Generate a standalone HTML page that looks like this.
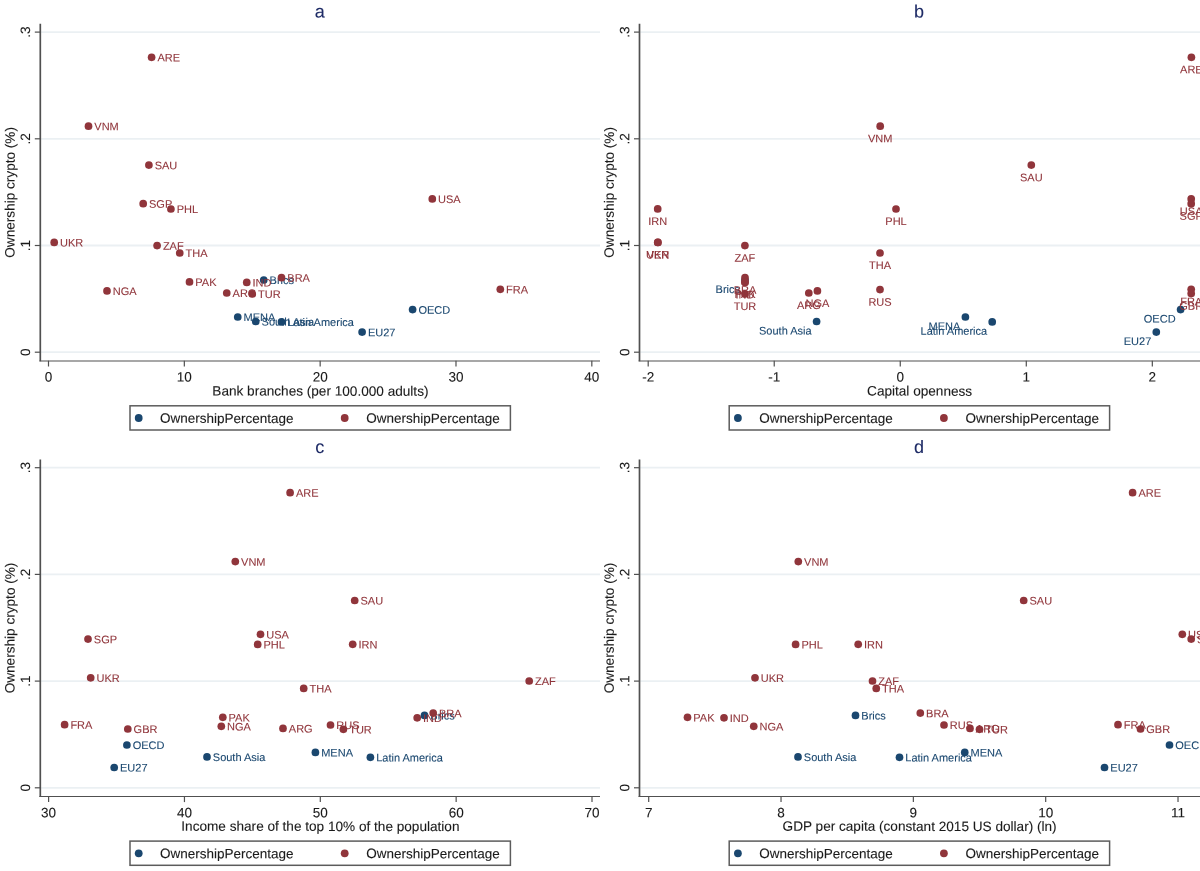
<!DOCTYPE html>
<html><head><meta charset="utf-8"><style>
html,body{margin:0;padding:0;background:#fff;}
svg{display:block;filter:blur(0.4px);}
text{font-family:"Liberation Sans", sans-serif;stroke-width:0.1px;}
</style></head><body>
<svg width="1200" height="871" viewBox="0 0 1200 871">
<rect x="0" y="0" width="1200" height="871" fill="#ffffff"/>
<line x1="41.10" y1="352.20" x2="600.00" y2="352.20" stroke="#ebf0f3" stroke-width="1.8"/>
<line x1="41.10" y1="245.50" x2="600.00" y2="245.50" stroke="#ebf0f3" stroke-width="1.8"/>
<line x1="41.10" y1="138.80" x2="600.00" y2="138.80" stroke="#ebf0f3" stroke-width="1.8"/>
<line x1="41.10" y1="32.10" x2="600.00" y2="32.10" stroke="#ebf0f3" stroke-width="1.8"/>
<line x1="40.30" y1="23.80" x2="40.30" y2="361.30" stroke="#505050" stroke-width="1.7"/>
<line x1="39.40" y1="360.90" x2="600.00" y2="360.90" stroke="#505050" stroke-width="1.05"/>
<line x1="34.80" y1="352.20" x2="40.30" y2="352.20" stroke="#505050" stroke-width="1.2"/>
<text x="30.00" y="352.20" font-size="13.5" fill="#1a1a1a" stroke="#1a1a1a" text-anchor="middle" transform="rotate(-89.9 30.00 352.20)">0</text>
<line x1="34.80" y1="245.50" x2="40.30" y2="245.50" stroke="#505050" stroke-width="1.2"/>
<text x="30.00" y="245.50" font-size="13.5" fill="#1a1a1a" stroke="#1a1a1a" text-anchor="middle" transform="rotate(-89.9 30.00 245.50)">.1</text>
<line x1="34.80" y1="138.80" x2="40.30" y2="138.80" stroke="#505050" stroke-width="1.2"/>
<text x="30.00" y="138.80" font-size="13.5" fill="#1a1a1a" stroke="#1a1a1a" text-anchor="middle" transform="rotate(-89.9 30.00 138.80)">.2</text>
<line x1="34.80" y1="32.10" x2="40.30" y2="32.10" stroke="#505050" stroke-width="1.2"/>
<text x="30.00" y="32.10" font-size="13.5" fill="#1a1a1a" stroke="#1a1a1a" text-anchor="middle" transform="rotate(-89.9 30.00 32.10)">.3</text>
<line x1="48.50" y1="360.70" x2="48.50" y2="366.50" stroke="#505050" stroke-width="1.2"/>
<text x="48.50" y="381.60" font-size="13.5" fill="#1a1a1a" stroke="#1a1a1a" text-anchor="middle" transform="rotate(0.1 48.50 381.60)">0</text>
<line x1="184.33" y1="360.70" x2="184.33" y2="366.50" stroke="#505050" stroke-width="1.2"/>
<text x="184.33" y="381.60" font-size="13.5" fill="#1a1a1a" stroke="#1a1a1a" text-anchor="middle" transform="rotate(0.1 184.33 381.60)">10</text>
<line x1="320.16" y1="360.70" x2="320.16" y2="366.50" stroke="#505050" stroke-width="1.2"/>
<text x="320.16" y="381.60" font-size="13.5" fill="#1a1a1a" stroke="#1a1a1a" text-anchor="middle" transform="rotate(0.1 320.16 381.60)">20</text>
<line x1="455.99" y1="360.70" x2="455.99" y2="366.50" stroke="#505050" stroke-width="1.2"/>
<text x="455.99" y="381.60" font-size="13.5" fill="#1a1a1a" stroke="#1a1a1a" text-anchor="middle" transform="rotate(0.1 455.99 381.60)">30</text>
<line x1="591.82" y1="360.70" x2="591.82" y2="366.50" stroke="#505050" stroke-width="1.2"/>
<text x="591.82" y="381.60" font-size="13.5" fill="#1a1a1a" stroke="#1a1a1a" text-anchor="middle" transform="rotate(0.1 591.82 381.60)">40</text>
<text x="320.40" y="395.60" font-size="13.6" fill="#1a1a1a" stroke="#1a1a1a" text-anchor="middle" transform="rotate(0.1 320.40 395.60)">Bank branches (per 100.000 adults)</text>
<text x="14.60" y="192.40" font-size="13.6" fill="#1a1a1a" stroke="#1a1a1a" text-anchor="middle" transform="rotate(-89.9 14.60 192.40)">Ownership crypto (%)</text>
<text x="319.80" y="17.60" font-size="18" fill="#1e2b66" stroke="#1e2b66" text-anchor="middle" transform="rotate(0.1 319.80 17.60)">a</text>
<rect x="130.00" y="405.80" width="380.4" height="24.2" fill="none" stroke="#5c5c5c" stroke-width="1.5"/>
<circle cx="138.70" cy="418.00" r="3.9" fill="#1a476f"/>
<text x="160.00" y="422.80" font-size="13.5" fill="#1a1a1a" stroke="#1a1a1a" text-anchor="start" transform="rotate(0.1 160.00 422.80)">OwnershipPercentage</text>
<circle cx="344.70" cy="418.00" r="3.9" fill="#90353b"/>
<text x="366.30" y="422.80" font-size="13.5" fill="#1a1a1a" stroke="#1a1a1a" text-anchor="start" transform="rotate(0.1 366.30 422.80)">OwnershipPercentage</text>
<circle cx="263.75" cy="280.00" r="3.85" fill="#1a476f"/>
<circle cx="237.75" cy="317.00" r="3.85" fill="#1a476f"/>
<circle cx="255.75" cy="321.50" r="3.85" fill="#1a476f"/>
<circle cx="281.50" cy="321.90" r="3.85" fill="#1a476f"/>
<circle cx="412.60" cy="309.60" r="3.85" fill="#1a476f"/>
<circle cx="362.10" cy="332.10" r="3.85" fill="#1a476f"/>
<text x="269.55" y="284.08" font-size="11" fill="#1a476f" stroke="#1a476f" transform="rotate(0.1 269.55 284.08)">Brics</text>
<text x="243.55" y="321.08" font-size="11" fill="#1a476f" stroke="#1a476f" transform="rotate(0.1 243.55 321.08)">MENA</text>
<text x="261.55" y="325.58" font-size="11" fill="#1a476f" stroke="#1a476f" transform="rotate(0.1 261.55 325.58)">South Asia</text>
<text x="287.30" y="325.98" font-size="11" fill="#1a476f" stroke="#1a476f" transform="rotate(0.1 287.30 325.98)">Latin America</text>
<text x="418.40" y="313.68" font-size="11" fill="#1a476f" stroke="#1a476f" transform="rotate(0.1 418.40 313.68)">OECD</text>
<text x="367.90" y="336.18" font-size="11" fill="#1a476f" stroke="#1a476f" transform="rotate(0.1 367.90 336.18)">EU27</text>
<circle cx="151.60" cy="57.30" r="3.85" fill="#90353b"/>
<circle cx="88.50" cy="126.20" r="3.85" fill="#90353b"/>
<circle cx="148.90" cy="165.10" r="3.85" fill="#90353b"/>
<circle cx="143.20" cy="203.70" r="3.85" fill="#90353b"/>
<circle cx="170.90" cy="209.00" r="3.85" fill="#90353b"/>
<circle cx="54.20" cy="242.40" r="3.85" fill="#90353b"/>
<circle cx="157.10" cy="245.60" r="3.85" fill="#90353b"/>
<circle cx="179.75" cy="253.00" r="3.85" fill="#90353b"/>
<circle cx="189.50" cy="281.90" r="3.85" fill="#90353b"/>
<circle cx="107.00" cy="290.90" r="3.85" fill="#90353b"/>
<circle cx="246.75" cy="282.40" r="3.85" fill="#90353b"/>
<circle cx="281.50" cy="277.70" r="3.85" fill="#90353b"/>
<circle cx="226.75" cy="293.00" r="3.85" fill="#90353b"/>
<circle cx="252.25" cy="293.90" r="3.85" fill="#90353b"/>
<circle cx="432.30" cy="198.90" r="3.85" fill="#90353b"/>
<circle cx="500.30" cy="289.30" r="3.85" fill="#90353b"/>
<text x="157.40" y="61.38" font-size="11" fill="#90353b" stroke="#90353b" transform="rotate(0.1 157.40 61.38)">ARE</text>
<text x="94.30" y="130.28" font-size="11" fill="#90353b" stroke="#90353b" transform="rotate(0.1 94.30 130.28)">VNM</text>
<text x="154.70" y="169.18" font-size="11" fill="#90353b" stroke="#90353b" transform="rotate(0.1 154.70 169.18)">SAU</text>
<text x="149.00" y="207.78" font-size="11" fill="#90353b" stroke="#90353b" transform="rotate(0.1 149.00 207.78)">SGP</text>
<text x="176.70" y="213.08" font-size="11" fill="#90353b" stroke="#90353b" transform="rotate(0.1 176.70 213.08)">PHL</text>
<text x="60.00" y="246.48" font-size="11" fill="#90353b" stroke="#90353b" transform="rotate(0.1 60.00 246.48)">UKR</text>
<text x="162.90" y="249.68" font-size="11" fill="#90353b" stroke="#90353b" transform="rotate(0.1 162.90 249.68)">ZAF</text>
<text x="185.55" y="257.08" font-size="11" fill="#90353b" stroke="#90353b" transform="rotate(0.1 185.55 257.08)">THA</text>
<text x="195.30" y="285.98" font-size="11" fill="#90353b" stroke="#90353b" transform="rotate(0.1 195.30 285.98)">PAK</text>
<text x="112.80" y="294.98" font-size="11" fill="#90353b" stroke="#90353b" transform="rotate(0.1 112.80 294.98)">NGA</text>
<text x="252.55" y="286.48" font-size="11" fill="#90353b" stroke="#90353b" transform="rotate(0.1 252.55 286.48)">IND</text>
<text x="287.30" y="281.78" font-size="11" fill="#90353b" stroke="#90353b" transform="rotate(0.1 287.30 281.78)">BRA</text>
<text x="232.55" y="297.08" font-size="11" fill="#90353b" stroke="#90353b" transform="rotate(0.1 232.55 297.08)">ARG</text>
<text x="258.05" y="297.98" font-size="11" fill="#90353b" stroke="#90353b" transform="rotate(0.1 258.05 297.98)">TUR</text>
<text x="438.10" y="202.98" font-size="11" fill="#90353b" stroke="#90353b" transform="rotate(0.1 438.10 202.98)">USA</text>
<text x="506.10" y="293.38" font-size="11" fill="#90353b" stroke="#90353b" transform="rotate(0.1 506.10 293.38)">FRA</text>
<line x1="640.30" y1="352.20" x2="1201.00" y2="352.20" stroke="#ebf0f3" stroke-width="1.8"/>
<line x1="640.30" y1="245.50" x2="1201.00" y2="245.50" stroke="#ebf0f3" stroke-width="1.8"/>
<line x1="640.30" y1="138.80" x2="1201.00" y2="138.80" stroke="#ebf0f3" stroke-width="1.8"/>
<line x1="640.30" y1="32.10" x2="1201.00" y2="32.10" stroke="#ebf0f3" stroke-width="1.8"/>
<line x1="639.50" y1="23.80" x2="639.50" y2="361.30" stroke="#505050" stroke-width="1.7"/>
<line x1="638.60" y1="360.90" x2="1201.00" y2="360.90" stroke="#505050" stroke-width="1.05"/>
<line x1="634.00" y1="352.20" x2="639.50" y2="352.20" stroke="#505050" stroke-width="1.2"/>
<text x="629.20" y="352.20" font-size="13.5" fill="#1a1a1a" stroke="#1a1a1a" text-anchor="middle" transform="rotate(-89.9 629.20 352.20)">0</text>
<line x1="634.00" y1="245.50" x2="639.50" y2="245.50" stroke="#505050" stroke-width="1.2"/>
<text x="629.20" y="245.50" font-size="13.5" fill="#1a1a1a" stroke="#1a1a1a" text-anchor="middle" transform="rotate(-89.9 629.20 245.50)">.1</text>
<line x1="634.00" y1="138.80" x2="639.50" y2="138.80" stroke="#505050" stroke-width="1.2"/>
<text x="629.20" y="138.80" font-size="13.5" fill="#1a1a1a" stroke="#1a1a1a" text-anchor="middle" transform="rotate(-89.9 629.20 138.80)">.2</text>
<line x1="634.00" y1="32.10" x2="639.50" y2="32.10" stroke="#505050" stroke-width="1.2"/>
<text x="629.20" y="32.10" font-size="13.5" fill="#1a1a1a" stroke="#1a1a1a" text-anchor="middle" transform="rotate(-89.9 629.20 32.10)">.3</text>
<line x1="648.20" y1="360.70" x2="648.20" y2="366.50" stroke="#505050" stroke-width="1.2"/>
<text x="648.20" y="381.60" font-size="13.5" fill="#1a1a1a" stroke="#1a1a1a" text-anchor="middle" transform="rotate(0.1 648.20 381.60)">-2</text>
<line x1="774.23" y1="360.70" x2="774.23" y2="366.50" stroke="#505050" stroke-width="1.2"/>
<text x="774.23" y="381.60" font-size="13.5" fill="#1a1a1a" stroke="#1a1a1a" text-anchor="middle" transform="rotate(0.1 774.23 381.60)">-1</text>
<line x1="900.26" y1="360.70" x2="900.26" y2="366.50" stroke="#505050" stroke-width="1.2"/>
<text x="900.26" y="381.60" font-size="13.5" fill="#1a1a1a" stroke="#1a1a1a" text-anchor="middle" transform="rotate(0.1 900.26 381.60)">0</text>
<line x1="1026.29" y1="360.70" x2="1026.29" y2="366.50" stroke="#505050" stroke-width="1.2"/>
<text x="1026.29" y="381.60" font-size="13.5" fill="#1a1a1a" stroke="#1a1a1a" text-anchor="middle" transform="rotate(0.1 1026.29 381.60)">1</text>
<line x1="1152.32" y1="360.70" x2="1152.32" y2="366.50" stroke="#505050" stroke-width="1.2"/>
<text x="1152.32" y="381.60" font-size="13.5" fill="#1a1a1a" stroke="#1a1a1a" text-anchor="middle" transform="rotate(0.1 1152.32 381.60)">2</text>
<text x="919.60" y="395.60" font-size="13.6" fill="#1a1a1a" stroke="#1a1a1a" text-anchor="middle" transform="rotate(0.1 919.60 395.60)">Capital openness</text>
<text x="613.80" y="192.40" font-size="13.6" fill="#1a1a1a" stroke="#1a1a1a" text-anchor="middle" transform="rotate(-89.9 613.80 192.40)">Ownership crypto (%)</text>
<text x="919.00" y="17.60" font-size="18" fill="#1e2b66" stroke="#1e2b66" text-anchor="middle" transform="rotate(0.1 919.00 17.60)">b</text>
<rect x="729.20" y="405.80" width="380.4" height="24.2" fill="none" stroke="#5c5c5c" stroke-width="1.5"/>
<circle cx="737.90" cy="418.00" r="3.9" fill="#1a476f"/>
<text x="759.20" y="422.80" font-size="13.5" fill="#1a1a1a" stroke="#1a1a1a" text-anchor="start" transform="rotate(0.1 759.20 422.80)">OwnershipPercentage</text>
<circle cx="943.90" cy="418.00" r="3.9" fill="#90353b"/>
<text x="965.50" y="422.80" font-size="13.5" fill="#1a1a1a" stroke="#1a1a1a" text-anchor="start" transform="rotate(0.1 965.50 422.80)">OwnershipPercentage</text>
<circle cx="745.00" cy="280.00" r="3.85" fill="#1a476f"/>
<circle cx="816.60" cy="321.50" r="3.85" fill="#1a476f"/>
<circle cx="965.40" cy="317.00" r="3.85" fill="#1a476f"/>
<circle cx="992.20" cy="321.90" r="3.85" fill="#1a476f"/>
<circle cx="1156.30" cy="332.10" r="3.85" fill="#1a476f"/>
<circle cx="1180.60" cy="309.60" r="3.85" fill="#1a476f"/>
<text x="740.00" y="292.98" font-size="11" fill="#1a476f" stroke="#1a476f" text-anchor="end" transform="rotate(0.1 740.00 292.98)">Brics</text>
<text x="811.60" y="334.48" font-size="11" fill="#1a476f" stroke="#1a476f" text-anchor="end" transform="rotate(0.1 811.60 334.48)">South Asia</text>
<text x="960.40" y="329.98" font-size="11" fill="#1a476f" stroke="#1a476f" text-anchor="end" transform="rotate(0.1 960.40 329.98)">MENA</text>
<text x="987.20" y="334.88" font-size="11" fill="#1a476f" stroke="#1a476f" text-anchor="end" transform="rotate(0.1 987.20 334.88)">Latin America</text>
<text x="1151.30" y="345.08" font-size="11" fill="#1a476f" stroke="#1a476f" text-anchor="end" transform="rotate(0.1 1151.30 345.08)">EU27</text>
<text x="1175.60" y="322.58" font-size="11" fill="#1a476f" stroke="#1a476f" text-anchor="end" transform="rotate(0.1 1175.60 322.58)">OECD</text>
<circle cx="657.70" cy="208.90" r="3.85" fill="#90353b"/>
<circle cx="657.70" cy="242.40" r="3.85" fill="#90353b"/>
<circle cx="658.00" cy="242.40" r="3.85" fill="#90353b"/>
<circle cx="744.90" cy="245.60" r="3.85" fill="#90353b"/>
<circle cx="745.00" cy="277.70" r="3.85" fill="#90353b"/>
<circle cx="745.00" cy="282.40" r="3.85" fill="#90353b"/>
<circle cx="745.00" cy="281.90" r="3.85" fill="#90353b"/>
<circle cx="745.00" cy="293.90" r="3.85" fill="#90353b"/>
<circle cx="808.80" cy="293.00" r="3.85" fill="#90353b"/>
<circle cx="817.40" cy="290.90" r="3.85" fill="#90353b"/>
<circle cx="880.20" cy="126.20" r="3.85" fill="#90353b"/>
<circle cx="880.00" cy="253.00" r="3.85" fill="#90353b"/>
<circle cx="880.00" cy="289.60" r="3.85" fill="#90353b"/>
<circle cx="896.00" cy="209.00" r="3.85" fill="#90353b"/>
<circle cx="1031.30" cy="165.10" r="3.85" fill="#90353b"/>
<circle cx="1191.40" cy="57.30" r="3.85" fill="#90353b"/>
<circle cx="1191.20" cy="198.90" r="3.85" fill="#90353b"/>
<circle cx="1191.20" cy="203.70" r="3.85" fill="#90353b"/>
<circle cx="1191.20" cy="289.30" r="3.85" fill="#90353b"/>
<circle cx="1191.20" cy="293.60" r="3.85" fill="#90353b"/>
<text x="657.70" y="224.98" font-size="11" fill="#90353b" stroke="#90353b" text-anchor="middle" transform="rotate(0.1 657.70 224.98)">IRN</text>
<text x="657.70" y="258.48" font-size="11" fill="#90353b" stroke="#90353b" text-anchor="middle" transform="rotate(0.1 657.70 258.48)">UKR</text>
<text x="658.00" y="258.48" font-size="11" fill="#90353b" stroke="#90353b" text-anchor="middle" transform="rotate(0.1 658.00 258.48)">VEN</text>
<text x="744.90" y="261.68" font-size="11" fill="#90353b" stroke="#90353b" text-anchor="middle" transform="rotate(0.1 744.90 261.68)">ZAF</text>
<text x="745.00" y="293.78" font-size="11" fill="#90353b" stroke="#90353b" text-anchor="middle" transform="rotate(0.1 745.00 293.78)">BRA</text>
<text x="745.00" y="298.48" font-size="11" fill="#90353b" stroke="#90353b" text-anchor="middle" transform="rotate(0.1 745.00 298.48)">IND</text>
<text x="745.00" y="297.98" font-size="11" fill="#90353b" stroke="#90353b" text-anchor="middle" transform="rotate(0.1 745.00 297.98)">PAK</text>
<text x="745.00" y="309.98" font-size="11" fill="#90353b" stroke="#90353b" text-anchor="middle" transform="rotate(0.1 745.00 309.98)">TUR</text>
<text x="808.80" y="309.08" font-size="11" fill="#90353b" stroke="#90353b" text-anchor="middle" transform="rotate(0.1 808.80 309.08)">ARG</text>
<text x="817.40" y="306.98" font-size="11" fill="#90353b" stroke="#90353b" text-anchor="middle" transform="rotate(0.1 817.40 306.98)">NGA</text>
<text x="880.20" y="142.28" font-size="11" fill="#90353b" stroke="#90353b" text-anchor="middle" transform="rotate(0.1 880.20 142.28)">VNM</text>
<text x="880.00" y="269.08" font-size="11" fill="#90353b" stroke="#90353b" text-anchor="middle" transform="rotate(0.1 880.00 269.08)">THA</text>
<text x="880.00" y="305.68" font-size="11" fill="#90353b" stroke="#90353b" text-anchor="middle" transform="rotate(0.1 880.00 305.68)">RUS</text>
<text x="896.00" y="225.08" font-size="11" fill="#90353b" stroke="#90353b" text-anchor="middle" transform="rotate(0.1 896.00 225.08)">PHL</text>
<text x="1031.30" y="181.18" font-size="11" fill="#90353b" stroke="#90353b" text-anchor="middle" transform="rotate(0.1 1031.30 181.18)">SAU</text>
<text x="1191.40" y="73.38" font-size="11" fill="#90353b" stroke="#90353b" text-anchor="middle" transform="rotate(0.1 1191.40 73.38)">ARE</text>
<text x="1191.20" y="214.98" font-size="11" fill="#90353b" stroke="#90353b" text-anchor="middle" transform="rotate(0.1 1191.20 214.98)">USA</text>
<text x="1191.20" y="219.78" font-size="11" fill="#90353b" stroke="#90353b" text-anchor="middle" transform="rotate(0.1 1191.20 219.78)">SGP</text>
<text x="1191.20" y="305.38" font-size="11" fill="#90353b" stroke="#90353b" text-anchor="middle" transform="rotate(0.1 1191.20 305.38)">FRA</text>
<text x="1191.20" y="309.68" font-size="11" fill="#90353b" stroke="#90353b" text-anchor="middle" transform="rotate(0.1 1191.20 309.68)">GBR</text>
<line x1="41.10" y1="787.80" x2="600.00" y2="787.80" stroke="#ebf0f3" stroke-width="1.8"/>
<line x1="41.10" y1="681.10" x2="600.00" y2="681.10" stroke="#ebf0f3" stroke-width="1.8"/>
<line x1="41.10" y1="574.40" x2="600.00" y2="574.40" stroke="#ebf0f3" stroke-width="1.8"/>
<line x1="41.10" y1="467.70" x2="600.00" y2="467.70" stroke="#ebf0f3" stroke-width="1.8"/>
<line x1="40.30" y1="459.40" x2="40.30" y2="796.90" stroke="#505050" stroke-width="1.7"/>
<line x1="39.40" y1="796.50" x2="600.00" y2="796.50" stroke="#505050" stroke-width="1.05"/>
<line x1="34.80" y1="787.80" x2="40.30" y2="787.80" stroke="#505050" stroke-width="1.2"/>
<text x="30.00" y="787.80" font-size="13.5" fill="#1a1a1a" stroke="#1a1a1a" text-anchor="middle" transform="rotate(-89.9 30.00 787.80)">0</text>
<line x1="34.80" y1="681.10" x2="40.30" y2="681.10" stroke="#505050" stroke-width="1.2"/>
<text x="30.00" y="681.10" font-size="13.5" fill="#1a1a1a" stroke="#1a1a1a" text-anchor="middle" transform="rotate(-89.9 30.00 681.10)">.1</text>
<line x1="34.80" y1="574.40" x2="40.30" y2="574.40" stroke="#505050" stroke-width="1.2"/>
<text x="30.00" y="574.40" font-size="13.5" fill="#1a1a1a" stroke="#1a1a1a" text-anchor="middle" transform="rotate(-89.9 30.00 574.40)">.2</text>
<line x1="34.80" y1="467.70" x2="40.30" y2="467.70" stroke="#505050" stroke-width="1.2"/>
<text x="30.00" y="467.70" font-size="13.5" fill="#1a1a1a" stroke="#1a1a1a" text-anchor="middle" transform="rotate(-89.9 30.00 467.70)">.3</text>
<line x1="48.60" y1="796.30" x2="48.60" y2="802.10" stroke="#505050" stroke-width="1.2"/>
<text x="48.60" y="817.20" font-size="13.5" fill="#1a1a1a" stroke="#1a1a1a" text-anchor="middle" transform="rotate(0.1 48.60 817.20)">30</text>
<line x1="184.45" y1="796.30" x2="184.45" y2="802.10" stroke="#505050" stroke-width="1.2"/>
<text x="184.45" y="817.20" font-size="13.5" fill="#1a1a1a" stroke="#1a1a1a" text-anchor="middle" transform="rotate(0.1 184.45 817.20)">40</text>
<line x1="320.30" y1="796.30" x2="320.30" y2="802.10" stroke="#505050" stroke-width="1.2"/>
<text x="320.30" y="817.20" font-size="13.5" fill="#1a1a1a" stroke="#1a1a1a" text-anchor="middle" transform="rotate(0.1 320.30 817.20)">50</text>
<line x1="456.15" y1="796.30" x2="456.15" y2="802.10" stroke="#505050" stroke-width="1.2"/>
<text x="456.15" y="817.20" font-size="13.5" fill="#1a1a1a" stroke="#1a1a1a" text-anchor="middle" transform="rotate(0.1 456.15 817.20)">60</text>
<line x1="592.00" y1="796.30" x2="592.00" y2="802.10" stroke="#505050" stroke-width="1.2"/>
<text x="592.00" y="817.20" font-size="13.5" fill="#1a1a1a" stroke="#1a1a1a" text-anchor="middle" transform="rotate(0.1 592.00 817.20)">70</text>
<text x="320.40" y="830.90" font-size="13.6" fill="#1a1a1a" stroke="#1a1a1a" text-anchor="middle" transform="rotate(0.1 320.40 830.90)">Income share of the top 10% of the population</text>
<text x="14.60" y="628.00" font-size="13.6" fill="#1a1a1a" stroke="#1a1a1a" text-anchor="middle" transform="rotate(-89.9 14.60 628.00)">Ownership crypto (%)</text>
<text x="319.80" y="452.90" font-size="18" fill="#1e2b66" stroke="#1e2b66" text-anchor="middle" transform="rotate(0.1 319.80 452.90)">c</text>
<rect x="130.00" y="841.10" width="380.4" height="24.2" fill="none" stroke="#5c5c5c" stroke-width="1.5"/>
<circle cx="138.70" cy="853.30" r="3.9" fill="#1a476f"/>
<text x="160.00" y="858.10" font-size="13.5" fill="#1a1a1a" stroke="#1a1a1a" text-anchor="start" transform="rotate(0.1 160.00 858.10)">OwnershipPercentage</text>
<circle cx="344.70" cy="853.30" r="3.9" fill="#90353b"/>
<text x="366.30" y="858.10" font-size="13.5" fill="#1a1a1a" stroke="#1a1a1a" text-anchor="start" transform="rotate(0.1 366.30 858.10)">OwnershipPercentage</text>
<circle cx="424.50" cy="715.40" r="3.85" fill="#1a476f"/>
<circle cx="126.90" cy="745.00" r="3.85" fill="#1a476f"/>
<circle cx="114.20" cy="767.50" r="3.85" fill="#1a476f"/>
<circle cx="207.00" cy="756.90" r="3.85" fill="#1a476f"/>
<circle cx="315.40" cy="752.40" r="3.85" fill="#1a476f"/>
<circle cx="370.40" cy="757.30" r="3.85" fill="#1a476f"/>
<text x="430.30" y="719.48" font-size="11" fill="#1a476f" stroke="#1a476f" transform="rotate(0.1 430.30 719.48)">Brics</text>
<text x="132.70" y="749.08" font-size="11" fill="#1a476f" stroke="#1a476f" transform="rotate(0.1 132.70 749.08)">OECD</text>
<text x="120.00" y="771.58" font-size="11" fill="#1a476f" stroke="#1a476f" transform="rotate(0.1 120.00 771.58)">EU27</text>
<text x="212.80" y="760.98" font-size="11" fill="#1a476f" stroke="#1a476f" transform="rotate(0.1 212.80 760.98)">South Asia</text>
<text x="321.20" y="756.48" font-size="11" fill="#1a476f" stroke="#1a476f" transform="rotate(0.1 321.20 756.48)">MENA</text>
<text x="376.20" y="761.38" font-size="11" fill="#1a476f" stroke="#1a476f" transform="rotate(0.1 376.20 761.38)">Latin America</text>
<circle cx="290.10" cy="492.70" r="3.85" fill="#90353b"/>
<circle cx="235.30" cy="561.60" r="3.85" fill="#90353b"/>
<circle cx="354.70" cy="600.50" r="3.85" fill="#90353b"/>
<circle cx="88.00" cy="639.10" r="3.85" fill="#90353b"/>
<circle cx="260.50" cy="634.30" r="3.85" fill="#90353b"/>
<circle cx="257.70" cy="644.40" r="3.85" fill="#90353b"/>
<circle cx="352.70" cy="644.30" r="3.85" fill="#90353b"/>
<circle cx="90.70" cy="677.80" r="3.85" fill="#90353b"/>
<circle cx="529.20" cy="681.00" r="3.85" fill="#90353b"/>
<circle cx="303.70" cy="688.40" r="3.85" fill="#90353b"/>
<circle cx="222.80" cy="717.30" r="3.85" fill="#90353b"/>
<circle cx="221.30" cy="726.30" r="3.85" fill="#90353b"/>
<circle cx="283.00" cy="728.40" r="3.85" fill="#90353b"/>
<circle cx="330.50" cy="725.00" r="3.85" fill="#90353b"/>
<circle cx="343.40" cy="729.30" r="3.85" fill="#90353b"/>
<circle cx="417.20" cy="717.80" r="3.85" fill="#90353b"/>
<circle cx="433.20" cy="713.10" r="3.85" fill="#90353b"/>
<circle cx="64.60" cy="724.70" r="3.85" fill="#90353b"/>
<circle cx="127.80" cy="729.00" r="3.85" fill="#90353b"/>
<text x="295.90" y="496.78" font-size="11" fill="#90353b" stroke="#90353b" transform="rotate(0.1 295.90 496.78)">ARE</text>
<text x="241.10" y="565.68" font-size="11" fill="#90353b" stroke="#90353b" transform="rotate(0.1 241.10 565.68)">VNM</text>
<text x="360.50" y="604.58" font-size="11" fill="#90353b" stroke="#90353b" transform="rotate(0.1 360.50 604.58)">SAU</text>
<text x="93.80" y="643.18" font-size="11" fill="#90353b" stroke="#90353b" transform="rotate(0.1 93.80 643.18)">SGP</text>
<text x="266.30" y="638.38" font-size="11" fill="#90353b" stroke="#90353b" transform="rotate(0.1 266.30 638.38)">USA</text>
<text x="263.50" y="648.48" font-size="11" fill="#90353b" stroke="#90353b" transform="rotate(0.1 263.50 648.48)">PHL</text>
<text x="358.50" y="648.38" font-size="11" fill="#90353b" stroke="#90353b" transform="rotate(0.1 358.50 648.38)">IRN</text>
<text x="96.50" y="681.88" font-size="11" fill="#90353b" stroke="#90353b" transform="rotate(0.1 96.50 681.88)">UKR</text>
<text x="535.00" y="685.08" font-size="11" fill="#90353b" stroke="#90353b" transform="rotate(0.1 535.00 685.08)">ZAF</text>
<text x="309.50" y="692.48" font-size="11" fill="#90353b" stroke="#90353b" transform="rotate(0.1 309.50 692.48)">THA</text>
<text x="228.60" y="721.38" font-size="11" fill="#90353b" stroke="#90353b" transform="rotate(0.1 228.60 721.38)">PAK</text>
<text x="227.10" y="730.38" font-size="11" fill="#90353b" stroke="#90353b" transform="rotate(0.1 227.10 730.38)">NGA</text>
<text x="288.80" y="732.48" font-size="11" fill="#90353b" stroke="#90353b" transform="rotate(0.1 288.80 732.48)">ARG</text>
<text x="336.30" y="729.08" font-size="11" fill="#90353b" stroke="#90353b" transform="rotate(0.1 336.30 729.08)">RUS</text>
<text x="349.20" y="733.38" font-size="11" fill="#90353b" stroke="#90353b" transform="rotate(0.1 349.20 733.38)">TUR</text>
<text x="423.00" y="721.88" font-size="11" fill="#90353b" stroke="#90353b" transform="rotate(0.1 423.00 721.88)">IND</text>
<text x="439.00" y="717.18" font-size="11" fill="#90353b" stroke="#90353b" transform="rotate(0.1 439.00 717.18)">BRA</text>
<text x="70.40" y="728.78" font-size="11" fill="#90353b" stroke="#90353b" transform="rotate(0.1 70.40 728.78)">FRA</text>
<text x="133.60" y="733.08" font-size="11" fill="#90353b" stroke="#90353b" transform="rotate(0.1 133.60 733.08)">GBR</text>
<line x1="640.30" y1="787.80" x2="1201.00" y2="787.80" stroke="#ebf0f3" stroke-width="1.8"/>
<line x1="640.30" y1="681.10" x2="1201.00" y2="681.10" stroke="#ebf0f3" stroke-width="1.8"/>
<line x1="640.30" y1="574.40" x2="1201.00" y2="574.40" stroke="#ebf0f3" stroke-width="1.8"/>
<line x1="640.30" y1="467.70" x2="1201.00" y2="467.70" stroke="#ebf0f3" stroke-width="1.8"/>
<line x1="639.50" y1="459.40" x2="639.50" y2="796.90" stroke="#505050" stroke-width="1.7"/>
<line x1="638.60" y1="796.50" x2="1201.00" y2="796.50" stroke="#505050" stroke-width="1.05"/>
<line x1="634.00" y1="787.80" x2="639.50" y2="787.80" stroke="#505050" stroke-width="1.2"/>
<text x="629.20" y="787.80" font-size="13.5" fill="#1a1a1a" stroke="#1a1a1a" text-anchor="middle" transform="rotate(-89.9 629.20 787.80)">0</text>
<line x1="634.00" y1="681.10" x2="639.50" y2="681.10" stroke="#505050" stroke-width="1.2"/>
<text x="629.20" y="681.10" font-size="13.5" fill="#1a1a1a" stroke="#1a1a1a" text-anchor="middle" transform="rotate(-89.9 629.20 681.10)">.1</text>
<line x1="634.00" y1="574.40" x2="639.50" y2="574.40" stroke="#505050" stroke-width="1.2"/>
<text x="629.20" y="574.40" font-size="13.5" fill="#1a1a1a" stroke="#1a1a1a" text-anchor="middle" transform="rotate(-89.9 629.20 574.40)">.2</text>
<line x1="634.00" y1="467.70" x2="639.50" y2="467.70" stroke="#505050" stroke-width="1.2"/>
<text x="629.20" y="467.70" font-size="13.5" fill="#1a1a1a" stroke="#1a1a1a" text-anchor="middle" transform="rotate(-89.9 629.20 467.70)">.3</text>
<line x1="648.70" y1="796.30" x2="648.70" y2="802.10" stroke="#505050" stroke-width="1.2"/>
<text x="648.70" y="817.20" font-size="13.5" fill="#1a1a1a" stroke="#1a1a1a" text-anchor="middle" transform="rotate(0.1 648.70 817.20)">7</text>
<line x1="781.03" y1="796.30" x2="781.03" y2="802.10" stroke="#505050" stroke-width="1.2"/>
<text x="781.03" y="817.20" font-size="13.5" fill="#1a1a1a" stroke="#1a1a1a" text-anchor="middle" transform="rotate(0.1 781.03 817.20)">8</text>
<line x1="913.36" y1="796.30" x2="913.36" y2="802.10" stroke="#505050" stroke-width="1.2"/>
<text x="913.36" y="817.20" font-size="13.5" fill="#1a1a1a" stroke="#1a1a1a" text-anchor="middle" transform="rotate(0.1 913.36 817.20)">9</text>
<line x1="1045.69" y1="796.30" x2="1045.69" y2="802.10" stroke="#505050" stroke-width="1.2"/>
<text x="1045.69" y="817.20" font-size="13.5" fill="#1a1a1a" stroke="#1a1a1a" text-anchor="middle" transform="rotate(0.1 1045.69 817.20)">10</text>
<line x1="1178.02" y1="796.30" x2="1178.02" y2="802.10" stroke="#505050" stroke-width="1.2"/>
<text x="1178.02" y="817.20" font-size="13.5" fill="#1a1a1a" stroke="#1a1a1a" text-anchor="middle" transform="rotate(0.1 1178.02 817.20)">11</text>
<text x="919.60" y="830.90" font-size="13.6" fill="#1a1a1a" stroke="#1a1a1a" text-anchor="middle" transform="rotate(0.1 919.60 830.90)">GDP per capita (constant 2015 US dollar) (ln)</text>
<text x="613.80" y="628.00" font-size="13.6" fill="#1a1a1a" stroke="#1a1a1a" text-anchor="middle" transform="rotate(-89.9 613.80 628.00)">Ownership crypto (%)</text>
<text x="919.00" y="452.90" font-size="18" fill="#1e2b66" stroke="#1e2b66" text-anchor="middle" transform="rotate(0.1 919.00 452.90)">d</text>
<rect x="729.20" y="841.10" width="380.4" height="24.2" fill="none" stroke="#5c5c5c" stroke-width="1.5"/>
<circle cx="737.90" cy="853.30" r="3.9" fill="#1a476f"/>
<text x="759.20" y="858.10" font-size="13.5" fill="#1a1a1a" stroke="#1a1a1a" text-anchor="start" transform="rotate(0.1 759.20 858.10)">OwnershipPercentage</text>
<circle cx="943.90" cy="853.30" r="3.9" fill="#90353b"/>
<text x="965.50" y="858.10" font-size="13.5" fill="#1a1a1a" stroke="#1a1a1a" text-anchor="start" transform="rotate(0.1 965.50 858.10)">OwnershipPercentage</text>
<circle cx="855.50" cy="715.40" r="3.85" fill="#1a476f"/>
<circle cx="798.00" cy="756.90" r="3.85" fill="#1a476f"/>
<circle cx="899.50" cy="757.30" r="3.85" fill="#1a476f"/>
<circle cx="964.75" cy="752.40" r="3.85" fill="#1a476f"/>
<circle cx="1169.50" cy="745.00" r="3.85" fill="#1a476f"/>
<circle cx="1104.50" cy="767.50" r="3.85" fill="#1a476f"/>
<text x="861.30" y="719.48" font-size="11" fill="#1a476f" stroke="#1a476f" transform="rotate(0.1 861.30 719.48)">Brics</text>
<text x="803.80" y="760.98" font-size="11" fill="#1a476f" stroke="#1a476f" transform="rotate(0.1 803.80 760.98)">South Asia</text>
<text x="905.30" y="761.38" font-size="11" fill="#1a476f" stroke="#1a476f" transform="rotate(0.1 905.30 761.38)">Latin America</text>
<text x="970.55" y="756.48" font-size="11" fill="#1a476f" stroke="#1a476f" transform="rotate(0.1 970.55 756.48)">MENA</text>
<text x="1175.30" y="749.08" font-size="11" fill="#1a476f" stroke="#1a476f" transform="rotate(0.1 1175.30 749.08)">OECD</text>
<text x="1110.30" y="771.58" font-size="11" fill="#1a476f" stroke="#1a476f" transform="rotate(0.1 1110.30 771.58)">EU27</text>
<circle cx="798.30" cy="561.60" r="3.85" fill="#90353b"/>
<circle cx="795.60" cy="644.40" r="3.85" fill="#90353b"/>
<circle cx="858.20" cy="644.30" r="3.85" fill="#90353b"/>
<circle cx="755.00" cy="677.80" r="3.85" fill="#90353b"/>
<circle cx="872.50" cy="681.00" r="3.85" fill="#90353b"/>
<circle cx="876.25" cy="688.40" r="3.85" fill="#90353b"/>
<circle cx="687.50" cy="717.30" r="3.85" fill="#90353b"/>
<circle cx="724.00" cy="717.80" r="3.85" fill="#90353b"/>
<circle cx="753.75" cy="726.30" r="3.85" fill="#90353b"/>
<circle cx="920.30" cy="713.10" r="3.85" fill="#90353b"/>
<circle cx="944.00" cy="725.00" r="3.85" fill="#90353b"/>
<circle cx="970.00" cy="728.40" r="3.85" fill="#90353b"/>
<circle cx="979.50" cy="729.30" r="3.85" fill="#90353b"/>
<circle cx="1118.00" cy="724.70" r="3.85" fill="#90353b"/>
<circle cx="1140.50" cy="729.00" r="3.85" fill="#90353b"/>
<circle cx="1132.60" cy="492.70" r="3.85" fill="#90353b"/>
<circle cx="1023.70" cy="600.50" r="3.85" fill="#90353b"/>
<circle cx="1182.30" cy="634.30" r="3.85" fill="#90353b"/>
<circle cx="1191.20" cy="639.10" r="3.85" fill="#90353b"/>
<text x="804.10" y="565.68" font-size="11" fill="#90353b" stroke="#90353b" transform="rotate(0.1 804.10 565.68)">VNM</text>
<text x="801.40" y="648.48" font-size="11" fill="#90353b" stroke="#90353b" transform="rotate(0.1 801.40 648.48)">PHL</text>
<text x="864.00" y="648.38" font-size="11" fill="#90353b" stroke="#90353b" transform="rotate(0.1 864.00 648.38)">IRN</text>
<text x="760.80" y="681.88" font-size="11" fill="#90353b" stroke="#90353b" transform="rotate(0.1 760.80 681.88)">UKR</text>
<text x="878.30" y="685.08" font-size="11" fill="#90353b" stroke="#90353b" transform="rotate(0.1 878.30 685.08)">ZAF</text>
<text x="882.05" y="692.48" font-size="11" fill="#90353b" stroke="#90353b" transform="rotate(0.1 882.05 692.48)">THA</text>
<text x="693.30" y="721.38" font-size="11" fill="#90353b" stroke="#90353b" transform="rotate(0.1 693.30 721.38)">PAK</text>
<text x="729.80" y="721.88" font-size="11" fill="#90353b" stroke="#90353b" transform="rotate(0.1 729.80 721.88)">IND</text>
<text x="759.55" y="730.38" font-size="11" fill="#90353b" stroke="#90353b" transform="rotate(0.1 759.55 730.38)">NGA</text>
<text x="926.10" y="717.18" font-size="11" fill="#90353b" stroke="#90353b" transform="rotate(0.1 926.10 717.18)">BRA</text>
<text x="949.80" y="729.08" font-size="11" fill="#90353b" stroke="#90353b" transform="rotate(0.1 949.80 729.08)">RUS</text>
<text x="975.80" y="732.48" font-size="11" fill="#90353b" stroke="#90353b" transform="rotate(0.1 975.80 732.48)">ARG</text>
<text x="985.30" y="733.38" font-size="11" fill="#90353b" stroke="#90353b" transform="rotate(0.1 985.30 733.38)">TUR</text>
<text x="1123.80" y="728.78" font-size="11" fill="#90353b" stroke="#90353b" transform="rotate(0.1 1123.80 728.78)">FRA</text>
<text x="1146.30" y="733.08" font-size="11" fill="#90353b" stroke="#90353b" transform="rotate(0.1 1146.30 733.08)">GBR</text>
<text x="1138.40" y="496.78" font-size="11" fill="#90353b" stroke="#90353b" transform="rotate(0.1 1138.40 496.78)">ARE</text>
<text x="1029.50" y="604.58" font-size="11" fill="#90353b" stroke="#90353b" transform="rotate(0.1 1029.50 604.58)">SAU</text>
<text x="1188.10" y="638.38" font-size="11" fill="#90353b" stroke="#90353b" transform="rotate(0.1 1188.10 638.38)">USA</text>
<text x="1197.00" y="643.18" font-size="11" fill="#90353b" stroke="#90353b" transform="rotate(0.1 1197.00 643.18)">SGP</text>
</svg>
</body></html>
